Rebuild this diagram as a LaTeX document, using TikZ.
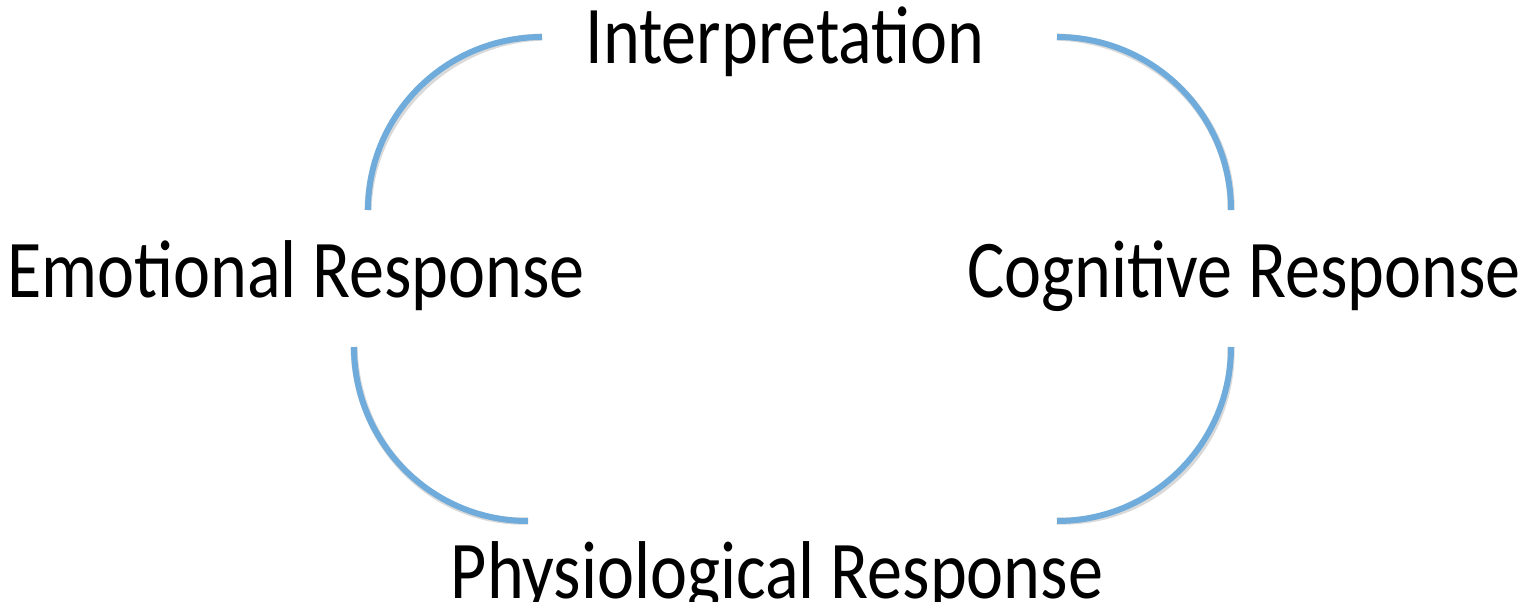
\documentclass[tikz,border=0pt]{standalone}
\usepackage{fontspec}
\setmainfont{Carlito}
\definecolor{arcblue}{RGB}{111,172,219}
\newcommand{\narrowtext}[1]{\scalebox{0.855}[1]{#1}}
\begin{document}
\begin{tikzpicture}[x=0.5pt,y=-0.5pt,
  lbl/.style={anchor=base,inner sep=0pt,font=\fontsize{41}{49}\selectfont},
  arcline/.style={draw=arcblue,line width=3pt},
  arcshadow/.style={draw=black,opacity=0.15,line width=3.6pt}]
\useasboundingbox (0,0) rectangle (1525,601);
% labels
\node[lbl] (interp) at (785,63) {\narrowtext{Interpretation}};
\node[lbl] (emo) at (296,297) {\narrowtext{Emotional Response}};
\node[lbl] (cog) at (1244,297) {\narrowtext{Cognitive Response}};
\node[lbl] (phys) at (777,598) {\narrowtext{Physiological Response}};
% arc end points
\coordinate (tlA) at (368,210); \coordinate (tlB) at (542,37);
\coordinate (trA) at (1057,37); \coordinate (trB) at (1231,210);
\coordinate (blA) at (354,347); \coordinate (blB) at (528,521);
\coordinate (brA) at (1231,347); \coordinate (brB) at (1057,521);
% shadows
\begin{scope}[shift={(2,3)}]
\draw[arcshadow] (tlA) .. controls (368,114.5) and (445.9,37) .. (tlB);
\draw[arcshadow] (trA) .. controls (1153.1,37) and (1231,114.5) .. (trB);
\draw[arcshadow] (blA) .. controls (354,443.1) and (431.9,521) .. (blB);
\draw[arcshadow] (brA) .. controls (1231,443.1) and (1153.1,521) .. (brB);
\end{scope}
% arcs
\draw[arcline] (tlA) .. controls (368,114.5) and (445.9,37) .. (tlB);
\draw[arcline] (trA) .. controls (1153.1,37) and (1231,114.5) .. (trB);
\draw[arcline] (blA) .. controls (354,443.1) and (431.9,521) .. (blB);
\draw[arcline] (brA) .. controls (1231,443.1) and (1153.1,521) .. (brB);
\end{tikzpicture}
\end{document}
